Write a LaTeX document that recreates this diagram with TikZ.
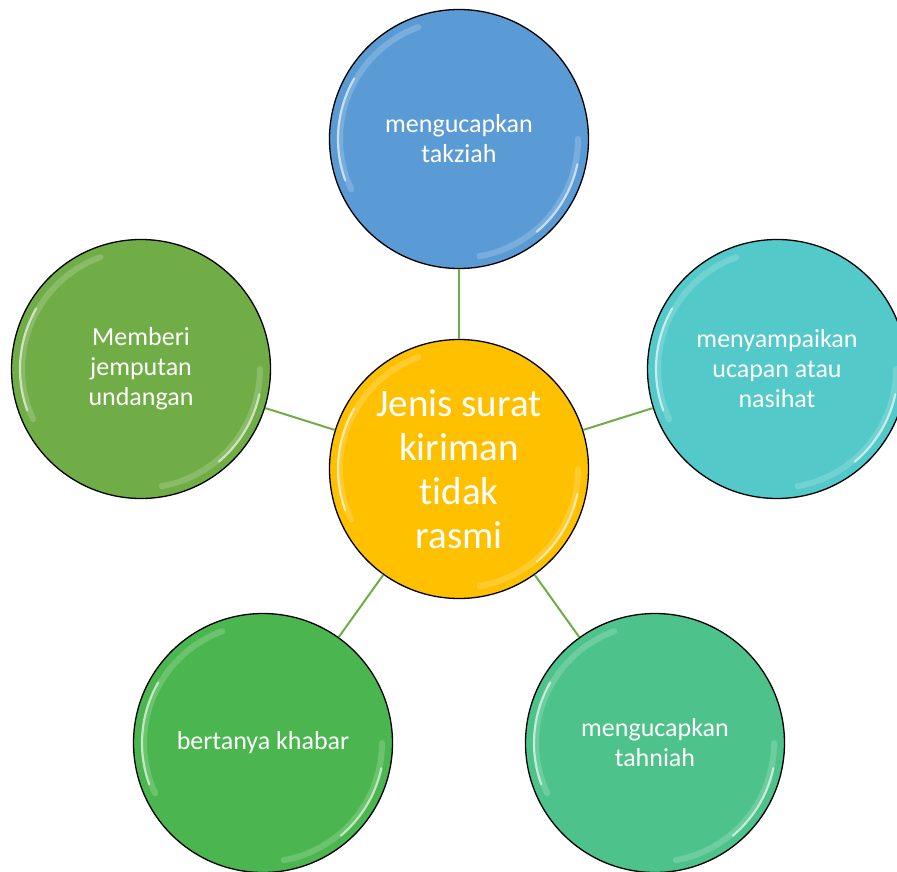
\documentclass[tikz,border=0pt]{standalone}
\usepackage{fontspec}
\setmainfont{Carlito}[Ligatures=NoCommon]
\definecolor{cblue}{HTML}{5B9BD5}
\definecolor{cyellow}{HTML}{FFC000}
\definecolor{cteal}{HTML}{53C9C9}
\definecolor{cmint}{HTML}{4DC28B}
\definecolor{cgreen}{HTML}{4BB64F}
\definecolor{colive}{HTML}{70AD47}
\definecolor{lkgreen}{HTML}{70AD47}
\begin{document}
\begin{tikzpicture}[x=1pt,y=1pt,
  bub/.style={circle, draw=black, line width=1.3pt, minimum size=259pt, inner sep=0pt,
    text=white, align=center, font=\fontsize{26}{30}\selectfont},
  bigtext/.style={font=\fontsize{39}{44}\selectfont},
  link/.style={draw=lkgreen, line width=2pt},
  hl/.style={draw=white, line width=6pt, opacity=0.18, line cap=round},
  hlb/.style={draw=white, line width=2.2pt, opacity=0.6, line cap=round}]
\useasboundingbox (0,-872) rectangle (897,0);
\begin{scope}
\clip (0,-872) rectangle (897,0);
\node[bub, fill=cyellow, bigtext] (c) at (459,-469) {Jenis surat\\kiriman\\tidak\\rasmi};
\node[bub, fill=cblue] (t) at (459,-139) {mengucapkan\\takziah};
\node[bub, fill=cteal] (r) at (777,-369) {menyampaikan\\ucapan atau\\nasihat};
\node[bub, fill=cmint] (br) at (655,-743) {mengucapkan\\tahniah};
\node[bub, fill=cgreen] (bl) at (263,-743) {bertanya khabar};
\node[bub, fill=colive] (l) at (141,-369) {Memberi\\jemputan\\undangan};
\foreach \n in {c,t,r,br,bl,l}{
  \draw[hl] ([shift={(110:119pt)}]\n.center) arc[start angle=110, end angle=205, radius=119pt];
  \draw[hlb] ([shift={(150:121pt)}]\n.center) arc[start angle=150, end angle=200, radius=121pt];
  \draw[hl] ([shift={(-80:119pt)}]\n.center) arc[start angle=-80, end angle=0, radius=119pt];
  \draw[hlb] ([shift={(-50:121pt)}]\n.center) arc[start angle=-50, end angle=-12, radius=121pt];
}
\draw[link] (c) -- (t);
\draw[link] (c) -- (r);
\draw[link] (c) -- (br);
\draw[link] (c) -- (bl);
\draw[link] (c) -- (l);
\end{scope}
\end{tikzpicture}
\end{document}
